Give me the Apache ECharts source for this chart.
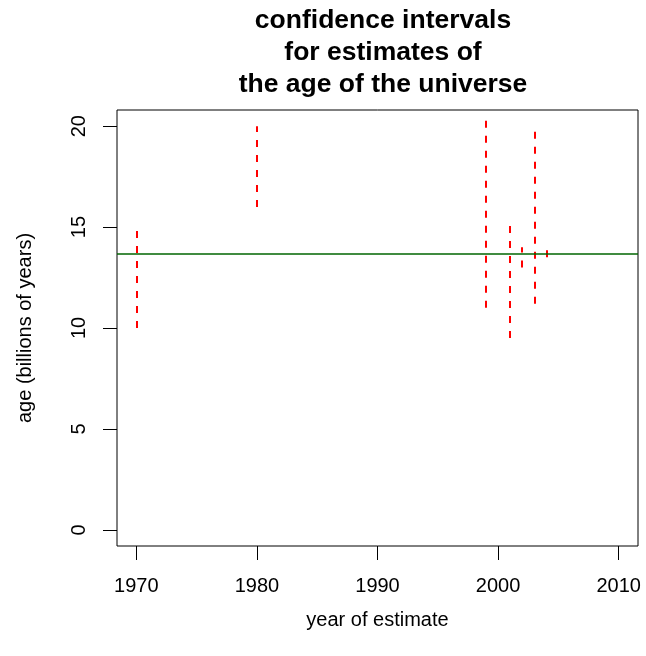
<!DOCTYPE html>
<html>
<head>
<meta charset="utf-8">
<script src="https://cdn.jsdelivr.net/npm/echarts@6/dist/echarts.min.js"></script>
<style>html,body{margin:0;padding:0;background:#fff}#c{width:646px;height:656px}</style>
</head>
<body>
<div id="c"></div>
<script>
// data
var years = [1970, 1980, 1999, 2001, 2002, 2003, 2004];
var lower = [10, 16, 11, 9.5, 13, 11.2, 13.5];
var upper = [15, 20, 20.3, 15.1, 14, 20, 13.9];
var referenceAge = 13.7;
var xTicks = [1970, 1980, 1990, 2000, 2010];
var yTicks = [0, 5, 10, 15, 20];
var titleLines = ['confidence intervals', 'for estimates of', 'the age of the universe'];

var FONT = 'Liberation Sans, Arial, Helvetica, sans-serif';
var segData = years.map(function (y, i) {
  return { coords: [[y, lower[i]], [y, upper[i]]] };
});

var chart = echarts.init(document.getElementById('c'), null, { renderer: 'canvas' });
chart.setOption({
  animation: false,
  backgroundColor: '#ffffff',
  title: {
    text: titleLines.join('\n'),
    left: 378,
    top: 0,
    textAlign: 'center',
    textStyle: { fontFamily: FONT, fontSize: 26.5, fontWeight: 'bold', color: '#000', lineHeight: 32 }
  },
  grid: {
    left: 117, top: 110, width: 521, height: 436,
    show: true, borderColor: '#000', borderWidth: 1, backgroundColor: 'transparent'
  },
  xAxis: {
    type: 'value', min: 1968.4, max: 2011.6,
    splitLine: { show: false },
    axisLine: { show: false, onZero: false },
    axisTick: { show: true, inside: false, length: 14, customValues: xTicks, lineStyle: { color: '#000', width: 1 } },
    axisLabel: { customValues: xTicks, margin: 30, fontFamily: FONT, fontSize: 20, color: '#000', formatter: function (v) { return String(v); } },
    name: 'year of estimate', nameLocation: 'middle', nameGap: 64,
    nameTextStyle: { fontFamily: FONT, fontSize: 20, color: '#000' }
  },
  yAxis: {
    type: 'value', min: -0.8, max: 20.8,
    splitLine: { show: false },
    axisLine: { show: false, onZero: false },
    axisTick: { show: true, inside: false, length: 14, customValues: yTicks, lineStyle: { color: '#000', width: 1 } },
    axisLabel: { customValues: yTicks, rotate: 90, margin: 28, fontFamily: FONT, fontSize: 20, color: '#000' },
    name: 'age (billions of years)', nameLocation: 'middle', nameGap: 82, nameRotate: 90,
    nameTextStyle: { fontFamily: FONT, fontSize: 20, color: '#000' }
  },
  series: [
    {
      type: 'lines',
      coordinateSystem: 'cartesian2d',
      polyline: false,
      symbol: ['none', 'none'],
      lineStyle: { color: '#ff0000', width: 2, type: [7, 8], opacity: 1 },
      data: segData,
      silent: true,
      markLine: {
        silent: true,
        symbol: ['none', 'none'],
        label: { show: false },
        lineStyle: { color: '#006400', width: 1.5, type: 'solid' },
        data: [{ yAxis: referenceAge }]
      }
    }
  ]
});
</script>
</body>
</html>
